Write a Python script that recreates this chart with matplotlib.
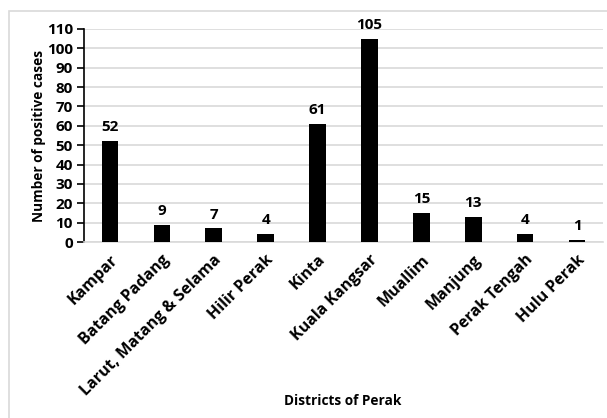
import matplotlib.pyplot as plt
from matplotlib.patches import Rectangle

districts = ['Kampar', 'Batang Padang', 'Larut, Matang & Selama', 'Hilir Perak',
             'Kinta', 'Kuala Kangsar', 'Muallim', 'Manjung', 'Perak Tengah',
             'Hulu Perak']
cases = [52, 9, 7, 4, 61, 105, 15, 13, 4, 1]
yticks = list(range(0, 111, 10))

plt.rcParams['font.family'] = ['Open Sans', 'DejaVu Sans']
plt.rcParams['font.weight'] = 'bold'

fig = plt.figure(figsize=(6.07, 4.18), dpi=100)
# chart-area frame
fig.patches.append(Rectangle((9 / 607, -0.1), 1.2, 1 - 11 / 418 + 0.1,
                             transform=fig.transFigure, fill=False,
                             edgecolor='#d9d9d9', linewidth=1.2))

ax = fig.add_axes([84 / 607, 1 - 242 / 418, (603 - 84) / 607, (242 - 29) / 418])
x = list(range(len(districts)))
bars = ax.bar(x, cases, width=0.32, color='black', zorder=3)
for b, v in zip(bars, cases):
    ax.annotate(str(v), (b.get_x() + b.get_width() / 2, v), xytext=(0, 5),
                textcoords='offset points', ha='center', va='bottom',
                fontsize=11, fontweight='bold')

ax.set_xlim(-0.5, len(districts) - 0.5)
ax.set_ylim(0, 110)
ax.set_yticks(yticks)
ax.yaxis.grid(True, color='#d9d9d9', linewidth=1.2, zorder=0)
ax.set_axisbelow(True)

for s in ['top', 'right']:
    ax.spines[s].set_visible(False)
ax.spines['bottom'].set_color('#d9d9d9')
ax.spines['bottom'].set_linewidth(1.2)
ax.spines['left'].set_color('black')
ax.spines['left'].set_linewidth(1.2)

ax.tick_params(axis='y', length=5, width=1.2, direction='out', labelsize=11, pad=3)
ax.tick_params(axis='x', length=0, pad=7)
ax.set_xticks(x)
ax.set_xticklabels(districts, rotation=45, ha='right', rotation_mode='anchor',
                   fontsize=11.5, fontweight='bold')
for lbl in ax.get_yticklabels():
    lbl.set_fontweight('bold')

ax.set_ylabel('Number of positive cases', fontsize=9.8, fontweight='bold')
ax.yaxis.set_label_coords(-0.074, 0.5)
fig.text(343 / 607, 1 - 401 / 418, 'Districts of Perak', ha='center', va='center',
         fontsize=9.8, fontweight='bold')

fig.savefig('out.png', dpi=100)
